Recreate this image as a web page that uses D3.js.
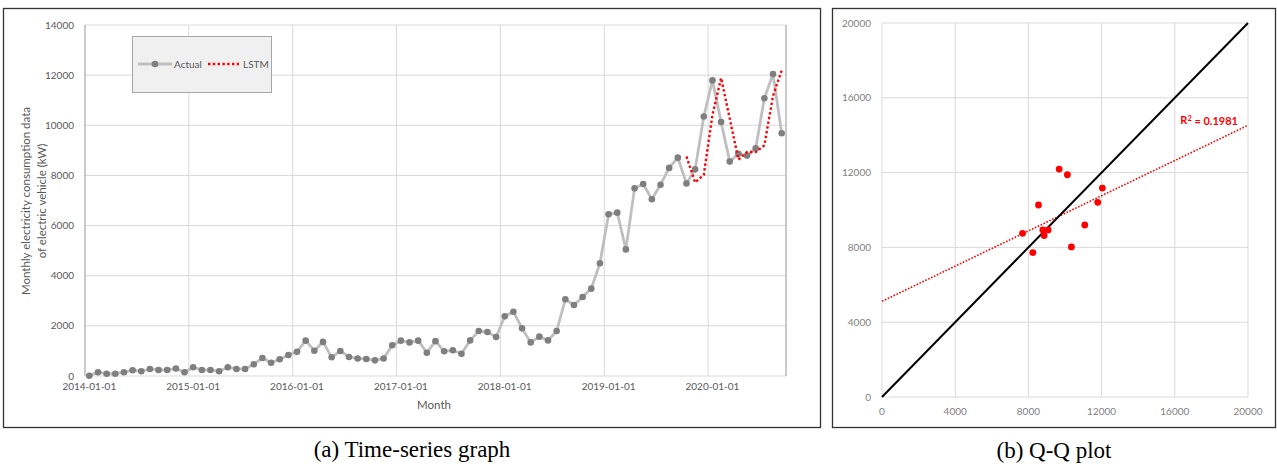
<!DOCTYPE html>
<html>
<head>
<meta charset="utf-8">
<script src="https://cdn.jsdelivr.net/npm/d3@7"></script>
<style>
  html, body { margin: 0; padding: 0; background: #fff; }
  svg { display: block; }
  .tick-label { font-family: Lato, "Open Sans", sans-serif; font-size: 10px; fill: #595959; }
  .axis-title { font-family: Lato, "Open Sans", sans-serif; font-size: 11.5px; fill: #595959; }
  .caption { font-family: "Liberation Serif", "Times New Roman", serif; font-size: 23px; fill: #000; }
</style>
</head>
<body>
<svg id="chart" width="1277" height="464"></svg>
<script>
// Monthly EV electricity consumption (kW), Jan 2014 – Sep 2020
const actualValues = [
  10, 150, 90, 90, 150, 230, 190, 280, 240, 240, 300, 150,
  350, 240, 240, 190, 350, 280, 280, 470, 720, 530, 670, 840,
  970, 1410, 1010, 1360, 745, 1000, 760, 700, 680, 625, 700, 1225,
  1410, 1340, 1410, 930, 1390, 985, 1025, 890, 1420, 1795, 1755, 1555,
  2380, 2565, 1900, 1340, 1570, 1420, 1795, 3060, 2830, 3150, 3485, 4495,
  6450, 6515, 5050, 7485, 7660, 7050, 7630, 8300, 8710, 7680, 8242, 10350,
  11790, 10131, 8552, 8860, 8790, 9078, 11081, 12042, 9680
];
// LSTM predictions for the last 12 months (Oct 2019 – Sep 2020)
const lstmValues = [8755, 7720, 8025, 10410, 11885, 10267, 8630, 8933, 8933, 9199, 11175, 12189];

const yTicksA = [0, 2000, 4000, 6000, 8000, 10000, 12000, 14000];
const xTickLabelsA = ["2014-01-01", "2015-01-01", "2016-01-01", "2017-01-01", "2018-01-01", "2019-01-01", "2020-01-01"];
const qqTicks = [0, 4000, 8000, 12000, 16000, 20000];
const r2Label = "0.1981";

const months = d3.timeMonth.range(new Date(2014, 0, 1), new Date(2020, 9, 1));
const fmt = d3.timeFormat("%Y-%m-%d");
const monthKeys = months.map(fmt);

const svg = d3.select("#chart");
const gridColor = "#d9d9d9";

// ---------- (a) Time-series panel ----------
svg.append("rect").attr("x", 3.5).attr("y", 8.5).attr("width", 817).attr("height", 419)
  .attr("fill", "none").attr("stroke", "#333").attr("stroke-width", 1.3);

const A = { left: 85, right: 786, top: 25, bottom: 376 };
const xA = d3.scaleBand().domain(monthKeys).range([A.left, A.right]).paddingInner(0).paddingOuter(0);
const yA = d3.scaleLinear().domain([0, 14000]).range([A.bottom, A.top]);
const cx = k => xA(k) + xA.bandwidth() / 2;

const gA = svg.append("g");
// horizontal gridlines
gA.selectAll(".hg").data(yTicksA).join("line")
  .attr("x1", A.left).attr("x2", A.right)
  .attr("y1", d => yA(d)).attr("y2", d => yA(d))
  .attr("stroke", gridColor).attr("stroke-width", 1);
// vertical gridlines at each January boundary
gA.selectAll(".vg").data(xTickLabelsA.slice(1)).join("line")
  .attr("x1", d => xA(d)).attr("x2", d => xA(d))
  .attr("y1", A.top).attr("y2", A.bottom)
  .attr("stroke", gridColor).attr("stroke-width", 1);
// plot frame sides
gA.append("line").attr("x1", A.left).attr("x2", A.left).attr("y1", A.top).attr("y2", A.bottom)
  .attr("stroke", "#a6a6a6").attr("stroke-width", 1.2);
gA.append("line").attr("x1", A.right).attr("x2", A.right).attr("y1", A.top).attr("y2", A.bottom)
  .attr("stroke", "#a6a6a6").attr("stroke-width", 1.2);

// y tick labels
gA.selectAll(".yl").data(yTicksA).join("text").attr("class", "tick-label")
  .attr("x", 74).attr("y", d => yA(d)).attr("dy", "0.35em").attr("text-anchor", "end")
  .text(d => d);
// x tick labels
gA.selectAll(".xl").data(xTickLabelsA).join("text").attr("class", "tick-label")
  .attr("x", d => cx(d)).attr("y", 386).attr("dy", "0.35em").attr("text-anchor", "middle")
  .text(d => d);

// axis titles
gA.append("text").attr("class", "axis-title").attr("x", 434).attr("y", 405).attr("dy", "0.35em")
  .attr("text-anchor", "middle").text("Month");
const yt = gA.append("text").attr("class", "axis-title").attr("text-anchor", "middle")
  .attr("transform", "translate(30,201) rotate(-90)");
yt.append("tspan").attr("x", 0).attr("y", 0).text("Monthly electricity consumption data");
yt.append("tspan").attr("x", 0).attr("y", 16).text("of electric vehicle (kW)");

// Actual series
const actualData = actualValues.map((v, i) => ({ k: monthKeys[i], v }));
gA.append("path").datum(actualData)
  .attr("fill", "none").attr("stroke", "#bfbfbf").attr("stroke-width", 2.8).attr("stroke-linejoin", "round")
  .attr("d", d3.line().x(d => cx(d.k)).y(d => yA(d.v)));
gA.selectAll(".pt").data(actualData).join("circle")
  .attr("cx", d => cx(d.k)).attr("cy", d => yA(d.v)).attr("r", 3.3).attr("fill", "#7f7f7f");

// LSTM series
const lstmOffset = actualValues.length - lstmValues.length;
const lstmData = lstmValues.map((v, i) => ({ k: monthKeys[lstmOffset + i], v }));
gA.append("path").datum(lstmData)
  .attr("fill", "none").attr("stroke", "#ff0000").attr("stroke-width", 2.4)
  .attr("stroke-dasharray", "2.4 2.4")
  .attr("d", d3.line().x(d => cx(d.k)).y(d => yA(d.v)));

// Legend
const lg = gA.append("g");
lg.append("rect").attr("x", 132.5).attr("y", 36.5).attr("width", 139).attr("height", 56)
  .attr("fill", "#f0f0f0").attr("stroke", "#a6a6a6").attr("stroke-width", 1);
lg.append("line").attr("x1", 138).attr("x2", 172).attr("y1", 64).attr("y2", 64)
  .attr("stroke", "#bfbfbf").attr("stroke-width", 2.8);
lg.append("circle").attr("cx", 155).attr("cy", 64).attr("r", 3.3).attr("fill", "#7f7f7f");
lg.append("text").attr("class", "tick-label").attr("x", 174).attr("y", 64).attr("dy", "0.35em").text("Actual");
lg.append("line").attr("x1", 208).attr("x2", 239).attr("y1", 64).attr("y2", 64)
  .attr("stroke", "#ff0000").attr("stroke-width", 2.4).attr("stroke-dasharray", "2.4 2.4");
lg.append("text").attr("class", "tick-label").attr("x", 243).attr("y", 64).attr("dy", "0.35em").text("LSTM");

svg.append("text").attr("class", "caption").attr("x", 412).attr("y", 457).attr("text-anchor", "middle")
  .text("(a) Time-series graph");

// ---------- (b) Q-Q panel ----------
svg.append("rect").attr("x", 832.5).attr("y", 8.5).attr("width", 443).attr("height", 419)
  .attr("fill", "none").attr("stroke", "#333").attr("stroke-width", 1.3);

const B = { left: 882, right: 1248, top: 23, bottom: 397 };
const xB = d3.scaleLinear().domain([0, 20000]).range([B.left, B.right]);
const yB = d3.scaleLinear().domain([0, 20000]).range([B.bottom, B.top]);
const gB = svg.append("g");

gB.selectAll(".hg").data(qqTicks).join("line")
  .attr("x1", B.left).attr("x2", B.right).attr("y1", d => yB(d)).attr("y2", d => yB(d))
  .attr("stroke", gridColor).attr("stroke-width", 1);
gB.selectAll(".vg").data(qqTicks).join("line")
  .attr("x1", d => xB(d)).attr("x2", d => xB(d)).attr("y1", B.top).attr("y2", B.bottom)
  .attr("stroke", gridColor).attr("stroke-width", 1);

gB.selectAll(".yl").data(qqTicks).join("text").attr("class", "tick-label")
  .attr("x", 871).attr("y", d => yB(d)).attr("dy", "0.35em").attr("text-anchor", "end")
  .style("fill", "#7f7f7f").text(d => d);
gB.selectAll(".xl").data(qqTicks).join("text").attr("class", "tick-label")
  .attr("x", d => xB(d)).attr("y", 411.5).attr("dy", "0.35em").attr("text-anchor", "middle")
  .style("fill", "#7f7f7f").text(d => d);

// Q-Q pairs: actual vs LSTM over the forecast months
const qqData = lstmValues.map((v, i) => ({ a: actualValues[lstmOffset + i], p: v }));

// least-squares trend line
const mx = d3.mean(qqData, d => d.a), my = d3.mean(qqData, d => d.p);
const slope = d3.sum(qqData, d => (d.a - mx) * (d.p - my)) / d3.sum(qqData, d => (d.a - mx) ** 2);
const intercept = my - slope * mx;
gB.append("line")
  .attr("x1", xB(0)).attr("y1", yB(intercept))
  .attr("x2", xB(20000)).attr("y2", yB(intercept + slope * 20000))
  .attr("stroke", "#ff0000").attr("stroke-width", 1.6).attr("stroke-dasharray", "1.6 1.6");

// y = x reference line
gB.append("line")
  .attr("x1", xB(0)).attr("y1", yB(0)).attr("x2", xB(20000)).attr("y2", yB(20000))
  .attr("stroke", "#000").attr("stroke-width", 2);

gB.selectAll(".qp").data(qqData).join("circle")
  .attr("cx", d => xB(d.a)).attr("cy", d => yB(d.p)).attr("r", 3.4).attr("fill", "#ff0000");

const r2 = gB.append("text").attr("x", 1238).attr("y", 120).attr("dy", "0.35em").attr("text-anchor", "end")
  .style("font-family", "Lato, 'Open Sans', sans-serif").style("font-size", "11px")
  .style("font-weight", "bold").style("fill", "#ff0000");
r2.append("tspan").text("R");
r2.append("tspan").attr("dy", "-0.4em").style("font-size", "7.5px").text("2");
r2.append("tspan").attr("dy", "0.4em").text(" = " + r2Label);

svg.append("text").attr("class", "caption").attr("x", 1054).attr("y", 458).attr("text-anchor", "middle")
  .text("(b) Q-Q plot");
</script>
</body>
</html>
